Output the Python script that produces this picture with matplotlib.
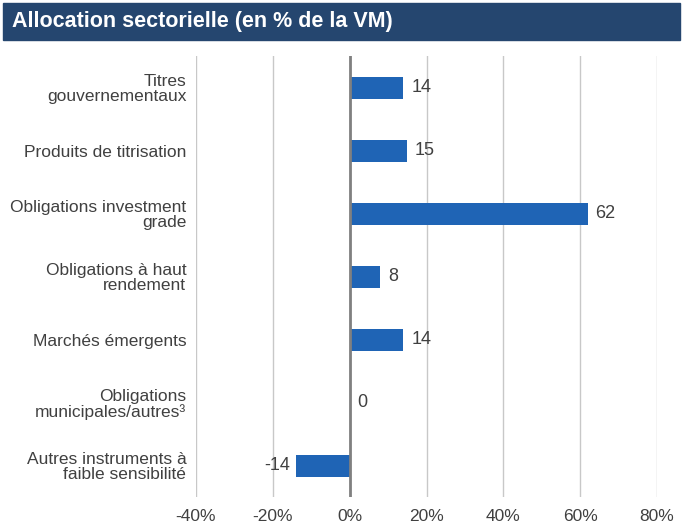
import matplotlib.pyplot as plt
from matplotlib.patches import Rectangle
from matplotlib import font_manager

# ***** Données *****
categories = ['Titres\ngouvernementaux', 'Produits de titrisation',
              'Obligations investment\ngrade', 'Obligations à haut\nrendement',
              'Marchés émergents', 'Obligations\nmunicipales/autres³',
              'Autres instruments à\nfaible sensibilité']
valeurs = [14, 15, 62, 8, 14, 0, -14]
ticks_x = [-40, -20, 0, 20, 40, 60, 80]
tick_labels = ['-40%', '-20%', '0%', '20%', '40%', '60%', '80%']

noms = {f.name for f in font_manager.fontManager.ttflist}
police = 'Liberation Sans Narrow' if 'Liberation Sans Narrow' in noms else 'Liberation Sans'
plt.rcParams['font.family'] = [police, 'DejaVu Sans']

fig = plt.figure(figsize=(6.83, 5.26), dpi=100)

# **** Bandeau titre ****
fig.patches.append(Rectangle((3/683, 1-40/526), 677/683, 37/526,
                             transform=fig.transFigure, color='#25466f', zorder=0))
fig.text(12/683, 1-22/526, 'Allocation sectorielle (en % de la VM)', color='white',
         fontsize=15.5, fontweight='bold', va='center', ha='left')

# **** Graphique ****
ax = fig.add_axes([196/683, 0.0542, 461/683, 0.8384])
y = list(range(len(categories)))
ax.barh(y, valeurs, height=0.35, color='#1f64b5', zorder=3)
ax.set_ylim(len(categories) - 0.5, -0.5)
ax.set_xlim(-40, 80)
ax.set_yticks(y)
ax.set_yticklabels(categories, fontsize=12.5, color='#404040', linespacing=1.0)
ax.set_xticks(ticks_x)
ax.set_xticklabels(tick_labels, fontsize=12.5, color='#404040')
ax.tick_params(length=0)
ax.tick_params(axis='x', pad=8)
ax.tick_params(axis='y', pad=7)
ax.grid(axis='x', color='#c8c8c8', linewidth=1, zorder=0)
ax.axvline(0, color='#808080', linewidth=2, zorder=4)
for s in ax.spines.values():
    s.set_visible(False)

for yi, v in zip(y, valeurs):
    if v >= 0:
        ax.text(v + 2, yi, str(v), va='center', ha='left', fontsize=13, color='#404040')
    else:
        ax.text(v - 1.5, yi, str(v), va='center', ha='right', fontsize=13, color='#404040')

fig.savefig('out.png', dpi=100)
